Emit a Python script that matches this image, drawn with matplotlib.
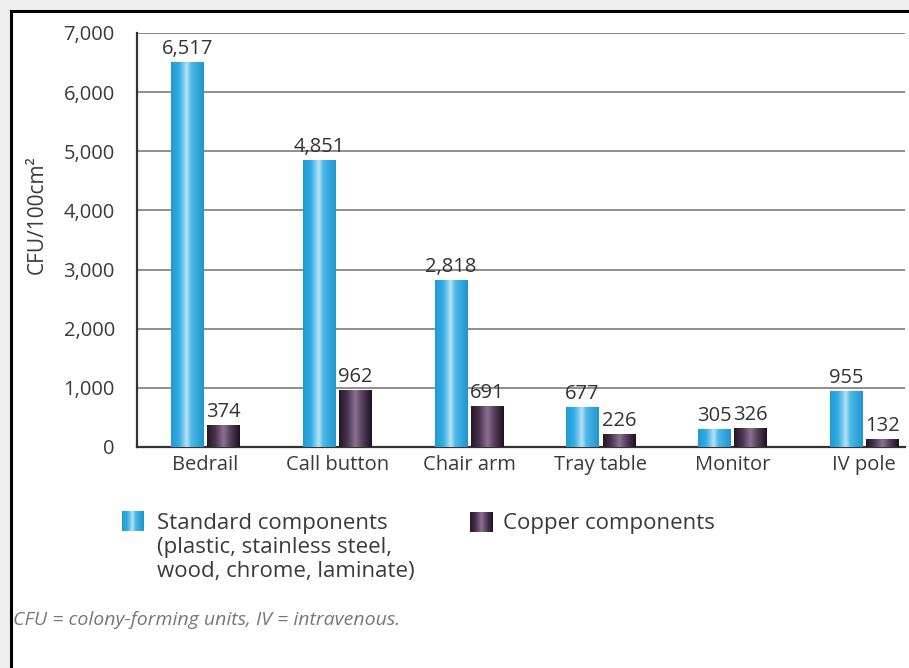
import numpy as np
import matplotlib
matplotlib.use("Agg")
import matplotlib.pyplot as plt
from matplotlib.colors import LinearSegmentedColormap
from matplotlib.patches import Rectangle

plt.rcParams['font.family'] = ['Open Sans', 'DejaVu Sans']

# ---- data ----
categories = ["Bedrail", "Call button", "Chair arm", "Tray table", "Monitor", "IV pole"]
standard = [6517, 4851, 2818, 677, 305, 955]
copper = [374, 962, 691, 226, 326, 132]
yticks = [0, 1000, 2000, 3000, 4000, 5000, 6000, 7000]
legend_standard = "Standard components\n(plastic, stainless steel,\nwood, chrome, laminate)"
legend_copper = "Copper components"
footnote = "CFU = colony-forming units, IV = intravenous."
ylabel = "CFU/100cm²"

W, H = 909, 668
fig = plt.figure(figsize=(W / 100, H / 100), dpi=100)
fig.patch.set_facecolor("#eeeeee")

# white panel with a black frame on the top and left
fig.patches.append(Rectangle((11 / W, 0), 1 - 11 / W, 1 - 11 / H, transform=fig.transFigure,
                             facecolor="white", edgecolor="none", zorder=-5))
fig.add_artist(plt.Line2D([11 / W, 1], [1 - 11 / H, 1 - 11 / H], color="black", lw=2.2,
                          transform=fig.transFigure, zorder=5))
fig.add_artist(plt.Line2D([11 / W, 11 / W], [0, 1 - 11 / H], color="black", lw=2.2,
                          transform=fig.transFigure, zorder=5))

ax = fig.add_axes([137 / W, 1 - 447 / H, (905 - 137) / W, (447 - 33) / H])
ax.set_zorder(2)
ax.set_facecolor("none")

blue_cmap = LinearSegmentedColormap.from_list(
    "blue_cyl", [(0.0, "#2299d3"), (0.25, "#33ade3"), (0.48, "#b9e3f6"),
                 (0.62, "#4cb8e8"), (1.0, "#1f95cf")])
purple_cmap = LinearSegmentedColormap.from_list(
    "purple_cyl", [(0.0, "#241729"), (0.25, "#4a3450"), (0.5, "#8e7192"),
                   (0.7, "#5a4260"), (1.0, "#1d1220")])

x = np.arange(len(categories))
bw = 0.245
gap = 0.015
b1 = ax.bar(x - bw / 2 - gap, standard, bw, facecolor="none", edgecolor="none", zorder=3)
b2 = ax.bar(x + bw / 2 + gap, copper, bw, facecolor="none", edgecolor="none", zorder=3)

grad = np.linspace(0, 1, 64).reshape(1, -1)


def shade(target, bars, cmap):
    for b in bars:
        x0, y0 = b.get_xy()
        w, h = b.get_width(), b.get_height()
        im = target.imshow(grad, extent=[x0, x0 + w, y0, y0 + h], cmap=cmap, aspect="auto",
                           interpolation="bicubic", zorder=3)
        im.set_clip_path(b)


shade(ax, b1, blue_cmap)
shade(ax, b2, purple_cmap)

for bars, vals in ((b1, standard), (b2, copper)):
    for b, v in zip(bars, vals):
        ax.text(b.get_x() + b.get_width() / 2, v + 50, f"{v:,}", ha="center", va="bottom",
                fontsize=14.5, color="#333333")

ax.set_xlim(-0.52, 5.31)
ax.set_ylim(0, 7000)
ax.set_yticks(yticks)
ax.set_yticklabels([f"{t:,}" for t in yticks])
ax.set_xticks(x)
ax.set_xticklabels(categories)
ax.tick_params(axis="both", length=0, labelsize=14.5, labelcolor="#3a3a3a")
ax.tick_params(axis="y", pad=16)
ax.tick_params(axis="x", pad=6)

ax.yaxis.grid(True, color="#8e8e8e", lw=1.4, zorder=1)
ax.set_axisbelow(True)
for s in ("top", "right"):
    ax.spines[s].set_visible(False)
ax.spines["left"].set_color("#333333")
ax.spines["left"].set_linewidth(1.6)
ax.spines["bottom"].set_color("#333333")
ax.spines["bottom"].set_linewidth(1.6)

fig.text(37 / W, 1 - 215 / H, ylabel, rotation=90, ha="center", va="center",
         fontsize=15, color="#3a3a3a")


# legend swatches drawn as small shaded boxes
def swatch(x0, y0, w, h, cmap):
    sax = fig.add_axes([x0 / W, 1 - (y0 + h) / H, w / W, h / H])
    sax.imshow(grad, cmap=cmap, aspect="auto", interpolation="bicubic")
    sax.set_axis_off()


swatch(122, 511, 22, 20, blue_cmap)
fig.text(157 / W, 1 - 513 / H, legend_standard, ha="left", va="top", fontsize=16,
         color="#3a3a3a", linespacing=1.18)
swatch(470, 512, 22, 20, purple_cmap)
fig.text(503 / W, 1 - 513 / H, legend_copper, ha="left", va="top", fontsize=16,
         color="#3a3a3a")

fig.text(13 / W, 1 - 620 / H, footnote, ha="left", va="center", fontsize=14,
         style="italic", color="#777777")

fig.savefig("out.png", dpi=100, facecolor=fig.get_facecolor())
